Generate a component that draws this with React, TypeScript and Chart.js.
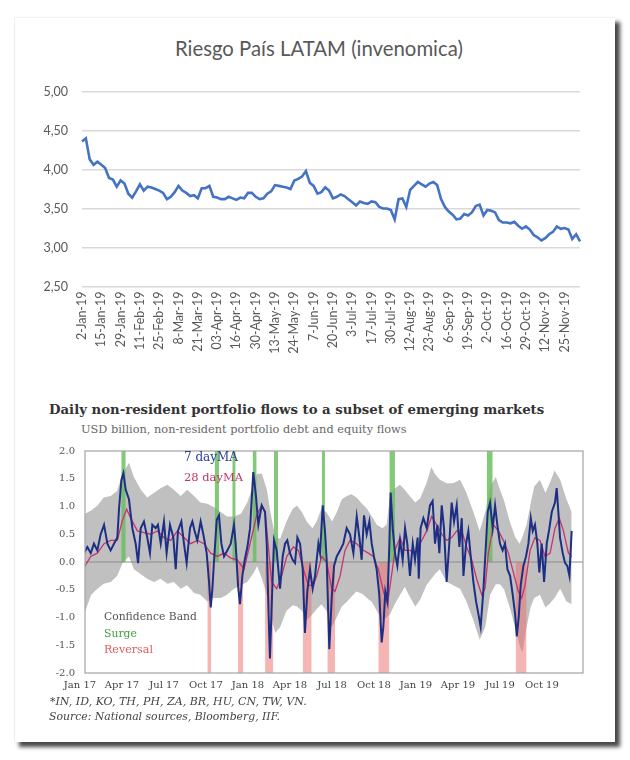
import React, { useEffect, useLayoutEffect, useRef } from 'react';
import { Chart, registerables } from 'chart.js';

Chart.register(...registerables);

// ---------- Top chart: Riesgo País LATAM ----------
const riskDateLabels = [
  '2-Jan-19', '15-Jan-19', '29-Jan-19', '11-Feb-19', '25-Feb-19', '8-Mar-19', '21-Mar-19',
  '03-Apr-19', '16-Apr-19', '30-Apr-19', '13-May-19', '24-May-19', '7-Jun-19', '20-Jun-19',
  '3-Jul-19', '17-Jul-19', '30-Jul-19', '12-Aug-19', '23-Aug-19', '6-Sep-19', '19-Sep-19',
  '2-Oct-19', '16-Oct-19', '29-Oct-19', '12-Nov-19', '25-Nov-19',
];
const RISK_POINTS_PER_LABEL = 5;
const riskIndex = [
  4.36, 4.40, 4.13, 4.06, 4.10, 4.06, 4.02, 3.89, 3.87, 3.78,
  3.86, 3.82, 3.69, 3.64, 3.72, 3.81, 3.73, 3.78, 3.77, 3.75,
  3.73, 3.70, 3.62, 3.65, 3.71, 3.79, 3.73, 3.70, 3.66, 3.67,
  3.63, 3.76, 3.76, 3.79, 3.65, 3.64, 3.62, 3.62, 3.65, 3.63,
  3.61, 3.64, 3.63, 3.70, 3.70, 3.65, 3.62, 3.63, 3.69, 3.72,
  3.80, 3.79, 3.78, 3.77, 3.75, 3.86, 3.88, 3.91, 3.98, 3.83,
  3.79, 3.69, 3.71, 3.77, 3.73, 3.63, 3.65, 3.68, 3.66, 3.62,
  3.58, 3.54, 3.59, 3.57, 3.56, 3.59, 3.58, 3.52, 3.50, 3.50,
  3.48, 3.36, 3.62, 3.63, 3.52, 3.74, 3.79, 3.84, 3.81, 3.78,
  3.82, 3.84, 3.80, 3.62, 3.52, 3.46, 3.42, 3.36, 3.37, 3.43,
  3.41, 3.45, 3.53, 3.55, 3.41, 3.48, 3.47, 3.45, 3.35, 3.32,
  3.32, 3.31, 3.33, 3.28, 3.24, 3.27, 3.23, 3.16, 3.13, 3.09,
  3.12, 3.17, 3.20, 3.27, 3.24, 3.25, 3.23, 3.11, 3.17, 3.08,
];

// ---------- Bottom chart: daily non-resident portfolio flows ----------
// x values are months since Jan 2017
const quarterMonths = [0, 3, 6, 9, 12, 15, 18, 21, 24, 27, 30, 33];
const quarterLabels = ['Jan 17', 'Apr 17', 'Jul 17', 'Oct 17', 'Jan 18', 'Apr 18', 'Jul 18', 'Oct 18', 'Jan 19', 'Apr 19', 'Jul 19', 'Oct 19'];
const X_MIN = 0.36;
const X_MAX = 35.93;
const Y_MIN = -2;
const Y_MAX = 2;

const flow7dMonths = [
  0.29, 0.53, 0.77, 1.00, 1.24, 1.48, 1.72, 1.96, 2.19, 2.43, 2.67, 2.79, 2.96, 3.10, 3.27, 3.50, 3.74, 3.98, 4.15, 4.34,
  4.57, 4.81, 5.00, 5.17, 5.41, 5.57, 5.77, 6.00, 6.19, 6.43, 6.67, 6.84, 7.00, 7.24, 7.43, 7.62, 7.86, 8.03, 8.19, 8.38,
  8.62, 8.81, 9.05, 9.22, 9.34, 9.46, 9.58, 9.77, 9.93, 10.10, 10.29, 10.53, 10.77, 11.00, 11.12, 11.29, 11.43, 11.60, 11.77, 11.96,
  12.15, 12.38, 12.57, 12.74, 12.98, 13.22, 13.34, 13.46, 13.57, 13.69, 13.86, 14.05, 14.29, 14.48, 14.65, 14.81, 15.00, 15.19, 15.36, 15.53,
  15.72, 15.91, 16.07, 16.24, 16.43, 16.62, 16.79, 17.03, 17.15, 17.34, 17.50, 17.62, 17.81, 17.98, 18.15, 18.34, 18.58, 18.81, 19.05, 19.29,
  19.53, 19.77, 19.96, 20.12, 20.29, 20.48, 20.67, 20.84, 21.00, 21.19, 21.38, 21.55, 21.67, 21.81, 21.96, 22.10, 22.19, 22.34, 22.50, 22.67,
  22.86, 23.05, 23.22, 23.38, 23.57, 23.77, 23.93, 24.12, 24.20, 24.33, 24.53, 24.77, 25.00, 25.19, 25.36, 25.53, 25.67, 25.84, 26.00, 26.19,
  26.38, 26.55, 26.72, 26.91, 27.10, 27.27, 27.39, 27.58, 27.74, 27.91, 28.10, 28.29, 28.46, 28.62, 28.81, 29.00, 29.12, 29.29, 29.48, 29.65,
  29.81, 30.00, 30.19, 30.36, 30.53, 30.72, 30.91, 31.08, 31.20, 31.34, 31.48, 31.67, 31.86, 32.03, 32.20, 32.34, 32.50, 32.67, 32.81, 32.98,
  33.15, 33.34, 33.53, 33.70, 33.93, 34.05, 34.17, 34.29, 34.48, 34.65, 34.81, 34.96, 35.12,
];
const flow7d = [
  0.16, 0.27, 0.16, 0.33, 0.21, 0.50, 0.67, 0.33, 0.21, 0.33, 0.44, 0.96, 1.48, 1.60, 1.30, 1.13, 0.61, 0.33, -0.02, 0.61,
  0.73, 0.44, 0.16, 0.67, 0.61, 0.67, 0.33, 0.73, 0.16, 0.67, 0.44, -0.13, 0.56, 0.73, 0.33, -0.02, 0.61, 0.73, 0.56, 0.39,
  0.73, 0.50, 0.16, -0.36, -0.82, -0.48, 0.04, 0.76, 0.84, 0.33, 0.10, 0.21, 0.33, 0.67, 0.33, -0.42, -0.76, -0.25, 0.04, 0.27,
  0.61, 1.62, 1.19, 0.67, 1.02, 0.90, 0.33, -0.82, -1.74, -0.82, 0.39, 0.21, -0.48, 0.10, 0.33, 0.39, 0.16, 0.04, -0.02, 0.44,
  0.33, -0.13, -1.28, -0.53, -0.13, -0.48, -0.25, 0.33, 0.16, 1.02, 0.56, 0.04, -1.57, -0.65, -0.07, 0.10, 0.21, 0.33, 0.61, 0.50,
  0.16, 0.82, 0.44, 0.04, 0.84, 0.50, 0.73, 0.33, 0.10, -0.13, -0.59, -1.45, -1.17, -0.53, -0.71, 0.33, 1.25, 0.61, 0.16, -0.07,
  0.39, 0.04, 0.61, 0.33, -0.25, 0.33, 0.04, 0.44, -0.30, 0.61, 0.79, 0.61, 1.02, 1.10, 0.33, 0.67, 0.16, 1.02, 0.61, -0.36,
  0.33, 1.07, 0.73, 1.02, 0.27, 0.79, -0.25, 0.33, 0.56, 0.10, -0.36, -0.71, -0.94, -1.17, -0.53, 0.33, 0.90, 1.07, 0.61, 1.02,
  0.67, 0.33, 0.21, 0.33, -0.13, -0.25, -0.59, -0.94, -1.34, -0.99, -0.42, -0.07, 0.10, 0.33, 0.79, 0.56, 0.67, 0.33, -0.19, 0.33,
  -0.36, 0.33, 0.61, 0.90, 1.07, 1.33, 0.90, 0.44, 0.16, -0.02, -0.07, -0.25, 0.56,
];

const flow28dMonths = [
  0.29, 0.77, 1.24, 1.72, 2.19, 2.67, 3.03, 3.34, 3.62, 4.10, 4.57, 5.05, 5.53, 6.00, 6.48, 6.96, 7.43, 7.91, 8.38, 8.86,
  9.34, 9.81, 10.29, 10.77, 11.24, 11.72, 12.15, 12.62, 12.98, 13.22, 13.46, 13.69, 14.05, 14.41, 14.77, 15.24, 15.60, 15.96, 16.31, 16.67,
  16.91, 17.27, 17.62, 17.98, 18.22, 18.58, 18.93, 19.29, 19.77, 20.24, 20.60, 20.95, 21.31, 21.67, 21.96, 22.19, 22.50, 22.86, 23.22, 23.57,
  23.93, 24.29, 24.77, 25.12, 25.48, 25.84, 26.19, 26.55, 26.91, 27.27, 27.62, 27.98, 28.34, 28.70, 28.93, 29.17, 29.53, 29.89, 30.24, 30.60,
  30.96, 31.31, 31.55, 31.79, 32.15, 32.50, 32.86, 33.22, 33.58, 33.93, 34.24, 34.53, 34.89, 35.12,
];
const flow28d = [
  -0.10, 0.10, 0.16, 0.33, 0.39, 0.39, 0.75, 0.95, 0.79, 0.56, 0.53, 0.50, 0.56, 0.44, 0.39, 0.56, 0.44, 0.33, 0.39, 0.33,
  0.16, 0.10, 0.16, 0.07, 0.04, -0.13, 0.33, 0.84, 1.02, 0.90, 0.27, -0.36, -0.48, -0.25, 0.10, 0.27, 0.21, -0.13, -0.42, -0.42,
  -0.25, 0.10, 0.00, -0.48, -0.53, -0.25, 0.21, 0.39, 0.33, 0.21, 0.16, 0.10, -0.13, -0.53, -0.76, -0.36, 0.21, 0.44, 0.21, 0.21,
  0.16, 0.33, 0.56, 0.82, 0.67, 0.50, 0.39, 0.44, 0.56, 0.56, 0.27, 0.04, -0.31, -0.59, -0.48, 0.16, 0.67, 0.56, 0.39, 0.16,
  -0.19, -0.53, -0.65, -0.42, 0.21, 0.44, 0.39, 0.10, 0.16, 0.61, 0.79, 0.56, 0.16, 0.10,
];

const bandMonths = [
  0.36, 0.80, 1.25, 1.70, 2.20, 2.65, 3.05, 3.50, 3.85, 4.35, 4.80, 5.30, 5.75, 6.25, 6.70, 7.20, 7.65, 8.15, 8.60, 9.10,
  9.55, 10.05, 10.50, 11.00, 11.50, 11.95, 12.40, 12.65, 13.00, 13.35, 13.60, 13.95, 14.30, 14.75, 15.20, 15.50, 15.85, 16.20, 16.60, 16.90,
  17.25, 17.60, 18.00, 18.35, 18.70, 19.05, 19.40, 19.75, 20.15, 20.50, 20.85, 21.20, 21.60, 21.90, 22.15, 22.50, 22.85, 23.20, 23.55, 23.95,
  24.30, 24.75, 25.10, 25.35, 25.70, 26.20, 26.65, 27.15, 27.60, 28.10, 28.55, 28.95, 29.30, 29.70, 30.00, 30.30, 30.70, 31.10, 31.40, 31.60,
  31.90, 32.20, 32.45, 32.85, 33.25, 33.55, 33.90, 34.30, 34.75, 35.12,
];
const bandUpper = [
  0.87, 0.93, 1.02, 1.16, 1.19, 1.28, 1.59, 1.79, 1.53, 1.30, 1.16, 1.25, 1.33, 1.39, 1.30, 1.19, 1.30, 1.19, 1.07, 1.05,
  0.99, 0.90, 0.82, 0.82, 0.87, 1.07, 1.40, 1.59, 1.59, 1.30, 0.90, 0.45, 0.42, 0.73, 0.96, 1.02, 0.90, 0.73, 0.61, 0.73,
  0.96, 0.90, 0.73, 0.90, 1.13, 1.19, 1.22, 1.16, 1.05, 0.96, 0.82, 0.67, 0.61, 0.67, 1.19, 1.33, 1.39, 1.30, 1.19, 1.07,
  1.15, 1.42, 1.71, 1.59, 1.48, 1.42, 1.42, 1.48, 1.25, 0.90, 0.56, 0.90, 1.36, 1.53, 1.30, 1.10, 0.73, 0.44, 0.33, 0.45,
  0.67, 1.07, 1.36, 1.48, 1.25, 1.42, 1.65, 1.48, 1.13, 0.90,
];
const bandLower = [
  -0.90, -0.59, -0.48, -0.39, -0.36, -0.25, -0.02, 0.10, -0.13, -0.22, -0.30, -0.36, -0.30, -0.39, -0.36, -0.48, -0.42, -0.56, -0.59, -0.71,
  -0.65, -0.65, -0.59, -0.48, -0.42, -0.36, -0.20, -0.07, -0.30, -0.60, -0.94, -1.28, -1.17, -0.88, -0.78, -0.80, -0.88, -1.05, -0.94, -0.85,
  -0.76, -0.88, -1.17, -0.99, -0.80, -0.72, -0.62, -0.53, -0.57, -0.65, -0.72, -0.88, -1.05, -1.00, -0.94, -0.75, -0.60, -0.45, -0.62, -0.80,
  -0.68, -0.42, -0.30, -0.22, -0.13, -0.36, -0.42, -0.48, -0.71, -1.05, -1.40, -1.17, -0.59, -0.40, -0.40, -0.50, -0.82, -1.20, -1.50, -1.63,
  -1.17, -0.80, -0.65, -0.59, -0.82, -0.75, -0.65, -0.48, -0.71, -0.76,
];

const surgeStart = [2.95, 9.62, 10.88, 12.33, 13.86, 17.27, 22.10, 29.05];
const surgeEnd = [3.27, 9.93, 11.12, 12.62, 14.15, 17.50, 22.50, 29.48];
const reversalStart = [9.10, 11.29, 13.22, 15.91, 17.67, 21.31, 31.12];
const reversalEnd = [9.38, 11.67, 13.81, 16.55, 18.22, 22.10, 31.90];

// ---------- helpers ----------
type TxtProps = {
  text: string; left: number; cy: number; width: number; font: string; color: string; size: number;
  weight?: string; italic?: boolean;
};
function Txt({ text, left, cy, width, font, color, size, weight, italic }: TxtProps) {
  const ref = useRef<HTMLSpanElement>(null);
  useLayoutEffect(() => {
    const el = ref.current;
    if (!el) return;
    el.style.fontSize = size + 'px';
    const w = el.getBoundingClientRect().width;
    if (w > 0) el.style.fontSize = (size * width) / w + 'px';
  }, [text, width, size]);
  return (
    <span
      ref={ref}
      style={{
        position: 'absolute', left, top: cy - 10, height: 20, lineHeight: '20px', whiteSpace: 'nowrap',
        fontFamily: font, color, fontSize: size, fontWeight: weight ?? 'normal', fontStyle: italic ? 'italic' : 'normal',
      }}
    >
      {text}
    </span>
  );
}

const SANS = 'Lato, "Open Sans", sans-serif';
const SERIF = '"DejaVu Serif", Georgia, serif';

function RiskChart() {
  const ref = useRef<HTMLCanvasElement>(null);
  useEffect(() => {
    const labels = riskIndex.map((_, i) =>
      i % RISK_POINTS_PER_LABEL === 0 ? riskDateLabels[i / RISK_POINTS_PER_LABEL] ?? '' : ''
    );
    const chart = new Chart(ref.current!, {
      type: 'line',
      data: {
        labels,
        datasets: [
          { data: riskIndex, borderColor: '#4472c4', borderWidth: 2.6, pointRadius: 0, pointHoverRadius: 0, tension: 0 },
        ],
      },
      options: {
        animation: false,
        responsive: false,
        events: [],
        layout: { padding: { top: 12.5, right: 9, bottom: 0, left: 0 } },
        plugins: { legend: { display: false }, tooltip: { enabled: false } },
        scales: {
          x: {
            type: 'category',
            grid: { display: false, drawTicks: false },
            border: { display: false },
            ticks: {
              autoSkip: false, minRotation: 90, maxRotation: 90, padding: 5,
              color: '#595959', font: { family: SANS, size: 12.5 },
            },
            afterFit: (s: any) => { s.height = 103.5; },
          },
          y: {
            min: 2.5, max: 5,
            ticks: {
              stepSize: 0.5, padding: 14, color: '#595959', font: { family: SANS, size: 12.5 },
              callback: (v: any) => Number(v).toFixed(2).replace('.', ','),
            },
            grid: { color: '#d9d9d9', lineWidth: 1.4, drawTicks: false },
            border: { display: false },
            afterFit: (s: any) => { s.width = 52; },
          },
        },
      } as any,
    });
    return () => chart.destroy();
  }, []);
  return <canvas ref={ref} width={570} height={320} style={{ position: 'absolute', left: 30, top: 70, width: 570, height: 320 }} />;
}

function FlowsChart() {
  const ref = useRef<HTMLCanvasElement>(null);
  useEffect(() => {
    const pts = (xs: number[], ys: number[]) => xs.map((x, i) => ({ x, y: ys[i] }));
    const line = { pointRadius: 0, pointHoverRadius: 0, tension: 0 };
    const datasets: any[] = [
      { ...line, data: pts(flow7dMonths, flow7d), borderColor: '#1c2f84', borderWidth: 2, order: 0 },
      { ...line, data: pts(flow28dMonths, flow28d), borderColor: '#c8336e', borderWidth: 1.3, order: 1 },
      { ...line, data: [{ x: X_MIN, y: 0 }, { x: X_MAX, y: 0 }], borderColor: '#8c8c8c', borderWidth: 1, order: 2 },
      ...surgeStart.map((s, i) => ({
        ...line, data: [{ x: s, y: Y_MAX }, { x: surgeEnd[i], y: Y_MAX }], borderColor: 'transparent', borderWidth: 0,
        fill: { value: 0 }, backgroundColor: 'rgba(105,188,92,0.82)', order: 3,
      })),
      ...reversalStart.map((s, i) => ({
        ...line, data: [{ x: s, y: Y_MIN }, { x: reversalEnd[i], y: Y_MIN }], borderColor: 'transparent', borderWidth: 0,
        fill: { value: 0 }, backgroundColor: 'rgba(238,108,108,0.5)', order: 4,
      })),
      { ...line, data: pts(bandMonths, bandUpper), borderColor: 'transparent', borderWidth: 0, fill: '+1', backgroundColor: '#c0c0c0', order: 5 },
      { ...line, data: pts(bandMonths, bandLower), borderColor: 'transparent', borderWidth: 0, fill: false, order: 6 },
    ];
    const frame = {
      id: 'frame',
      afterDraw(chart: any) {
        const { ctx, chartArea: a } = chart;
        ctx.save();
        ctx.strokeStyle = '#a3a3a3';
        ctx.lineWidth = 1.2;
        ctx.strokeRect(a.left, a.top, a.right - a.left, a.bottom - a.top);
        ctx.restore();
      },
    };
    const chart = new Chart(ref.current!, {
      type: 'line',
      data: { datasets },
      plugins: [frame],
      options: {
        animation: false,
        responsive: false,
        events: [],
        layout: { padding: { top: 6, right: 17, bottom: 0, left: 0 } },
        plugins: { legend: { display: false }, tooltip: { enabled: false } },
        scales: {
          x: {
            type: 'linear', min: X_MIN, max: X_MAX,
            afterBuildTicks: (s: any) => { s.ticks = quarterMonths.map((v) => ({ value: v })); },
            ticks: {
              autoSkip: false, maxRotation: 0, minRotation: 0, padding: 6, color: '#444',
              font: { family: SERIF, size: 10 },
              callback: (v: any) => quarterLabels[quarterMonths.indexOf(Number(v))] ?? '',
            },
            grid: { display: false, drawTicks: false },
            border: { display: false },
            afterFit: (s: any) => { s.height = 27; },
          },
          y: {
            min: Y_MIN, max: Y_MAX,
            ticks: {
              stepSize: 0.5, padding: 10, color: '#555', font: { family: SERIF, size: 10 },
              callback: (v: any) => Number(v).toFixed(1),
            },
            grid: { display: false, drawTicks: false },
            border: { display: false },
            afterFit: (s: any) => { s.width = 45; },
          },
        },
      } as any,
    });
    return () => chart.destroy();
  }, []);
  return <canvas ref={ref} width={560} height={265} style={{ position: 'absolute', left: 40, top: 435, width: 560, height: 265 }} />;
}

export default function App() {
  return (
    <div style={{ position: 'absolute', left: 0, top: 0, width: 630, height: 760, background: '#fff', overflow: 'hidden' }}>
      <div
        style={{
          position: 'absolute', left: 14, top: 17, width: 601, height: 725, background: '#fff',
          borderLeft: '1px solid #ececec', borderTop: '1px solid #f3f3f3', boxSizing: 'border-box',
          boxShadow: '5px 5px 4px rgba(0,0,0,0.72)',
        }}
      />
      <Txt text="Riesgo País LATAM (invenomica)" left={175} cy={48} width={288} font={SANS} color="#595959" size={19} />
      <RiskChart />

      <Txt text="Daily non-resident portfolio flows to a subset of emerging markets" left={49} cy={410} width={496} font={SERIF} color="#333" size={12.5} weight="bold" />
      <Txt text="USD billion, non-resident portfolio debt and equity flows" left={81} cy={429} width={326} font={SERIF} color="#666" size={10.5} />
      <FlowsChart />
      <Txt text="7 dayMA" left={184} cy={457} width={54} font={SERIF} color="#2a3c8f" size={11} />
      <Txt text="28 dayMA" left={184} cy={477} width={59} font={SERIF} color="#c2336a" size={11} />
      <Txt text="Confidence Band" left={104} cy={617} width={93} font={SERIF} color="#555" size={11} />
      <Txt text="Surge" left={104} cy={634} width={33} font={SERIF} color="#3f9f3f" size={11} />
      <Txt text="Reversal" left={104} cy={650} width={49} font={SERIF} color="#e25c5c" size={11} />
      <Txt text="*IN, ID, KO, TH, PH, ZA, BR, HU, CN, TW, VN." left={50} cy={702} width={257} font={SERIF} color="#444" size={10.5} italic />
      <Txt text="Source: National sources, Bloomberg, IIF." left={49} cy={717} width={231} font={SERIF} color="#444" size={10.5} italic />
    </div>
  );
}
